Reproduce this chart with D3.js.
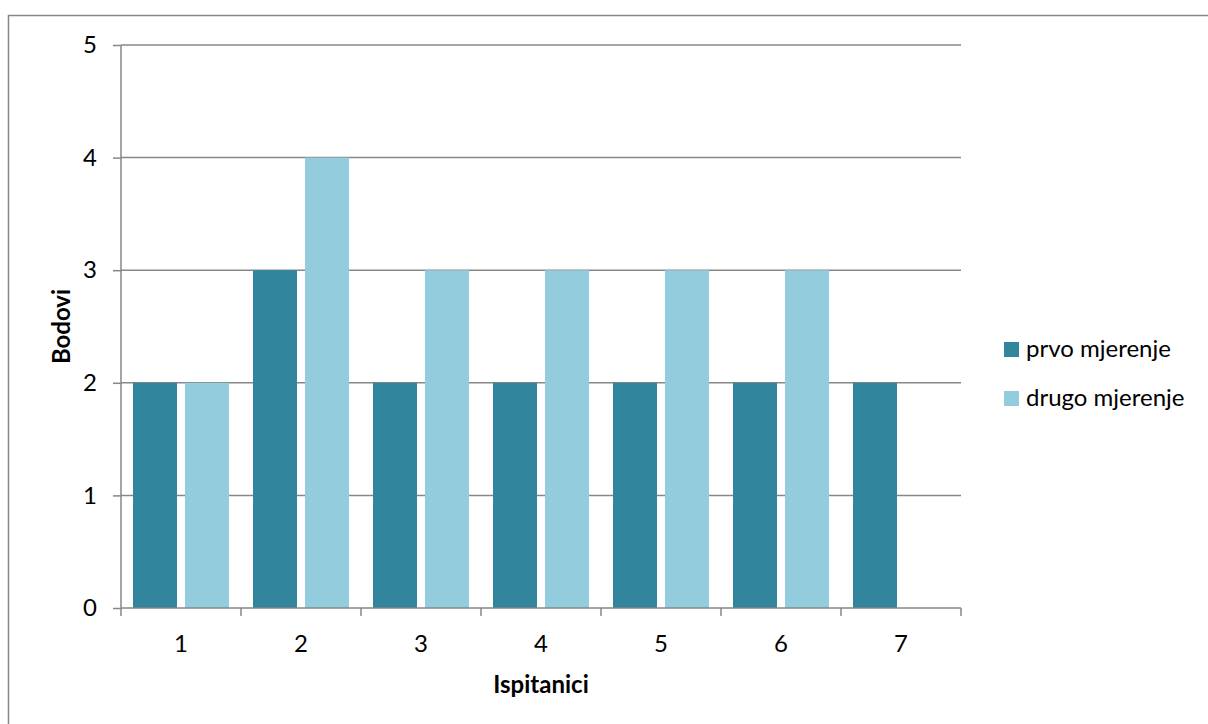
<!DOCTYPE html>
<html><head><meta charset="utf-8">
<script src="https://cdn.jsdelivr.net/npm/d3@7"></script>
<style>body{margin:0;background:#fff;}svg{display:block;font-family:Lato, "Open Sans", sans-serif;}</style>
</head><body>
<svg id="c" width="1208" height="724"></svg>
<script>
const categories = ["1","2","3","4","5","6","7"];
const seriesNames = ["prvo mjerenje","drugo mjerenje"];
const prvo = [2,3,2,2,2,2,2];
const drugo = [2,4,3,3,3,3,null];
const yTicks = [0,1,2,3,4,5];
const colors = ["#31859C","#93CDDD"];

const svg = d3.select("#c");
svg.append("rect").attr("x",8.5).attr("y",15.5).attr("width",1230).attr("height",760)
  .attr("fill","#fff").attr("stroke","#878787").attr("stroke-width",1.5);

const L=121,R=961,T=45,B=608;
const x = d3.scaleBand().domain(categories).range([L,R]).paddingInner(0).paddingOuter(0);
const x1 = d3.scaleBand().domain(seriesNames).range([0,x.bandwidth()]).paddingInner(8/52).paddingOuter(12/52);
const y = d3.scaleLinear().domain([0,5]).range([B,T]);

// gridlines
svg.append("g").selectAll("line").data(yTicks.filter(d=>d>0)).join("line")
  .attr("x1",L).attr("x2",R).attr("y1",d=>y(d)).attr("y2",d=>y(d))
  .attr("stroke","#878787").attr("stroke-width",1.5);

const data = categories.map((c,i)=>({c, vals:[prvo[i],drugo[i]]}));
svg.append("g").selectAll("g").data(data).join("g")
  .attr("transform",d=>`translate(${x(d.c)},0)`)
  .selectAll("rect").data(d=>d.vals.map((v,j)=>({v,s:seriesNames[j],j})).filter(e=>e.v!=null)).join("rect")
  .attr("x",e=>x1(e.s)).attr("width",x1.bandwidth())
  .attr("y",e=>y(e.v)).attr("height",e=>B-y(e.v)).attr("fill",e=>colors[e.j]);

// y axis
const ya = svg.append("g").attr("transform",`translate(${L},0)`)
  .call(d3.axisLeft(y).tickValues(yTicks).tickSize(8).tickPadding(16).tickFormat(d3.format("d")));
ya.select(".domain").attr("stroke","#878787").attr("stroke-width",1.5).attr("d",`M0,${T}V${B}`);
ya.selectAll(".tick line").attr("stroke","#878787").attr("stroke-width",1.5);
ya.selectAll("text").attr("font-size",24).attr("fill","#000").attr("font-family","Lato, sans-serif");

// x axis
const xa = svg.append("g").attr("transform",`translate(0,${B})`)
  .call(d3.axisBottom(x).tickSize(0).tickPadding(27));
xa.select(".domain").attr("stroke","#878787").attr("stroke-width",1.5).attr("d",`M${L},0H${R}`);
xa.selectAll("text").attr("font-size",24).attr("fill","#000").attr("font-family","Lato, sans-serif");
svg.append("g").selectAll("line").data(d3.range(categories.length+1)).join("line")
  .attr("x1",i=>L+i*x.step()).attr("x2",i=>L+i*x.step()).attr("y1",B).attr("y2",B+8)
  .attr("stroke","#878787").attr("stroke-width",1.5);

// axis titles
svg.append("text").attr("x",(L+R)/2).attr("y",693).attr("text-anchor","middle")
  .attr("font-size",24).attr("font-weight","bold").text("Ispitanici");
svg.append("text").attr("transform",`translate(70,${(T+B)/2}) rotate(-90)`).attr("text-anchor","middle")
  .attr("font-size",24).attr("font-weight","bold").text("Bodovi");

// legend
const lg = svg.append("g").selectAll("g").data(seriesNames).join("g")
  .attr("transform",(d,i)=>`translate(1004,${342+i*49})`);
lg.append("rect").attr("width",15).attr("height",15).attr("fill",(d,i)=>colors[i]);
lg.append("text").attr("x",22).attr("y",15).attr("font-size",24).text(d=>d);
</script>
</body></html>
